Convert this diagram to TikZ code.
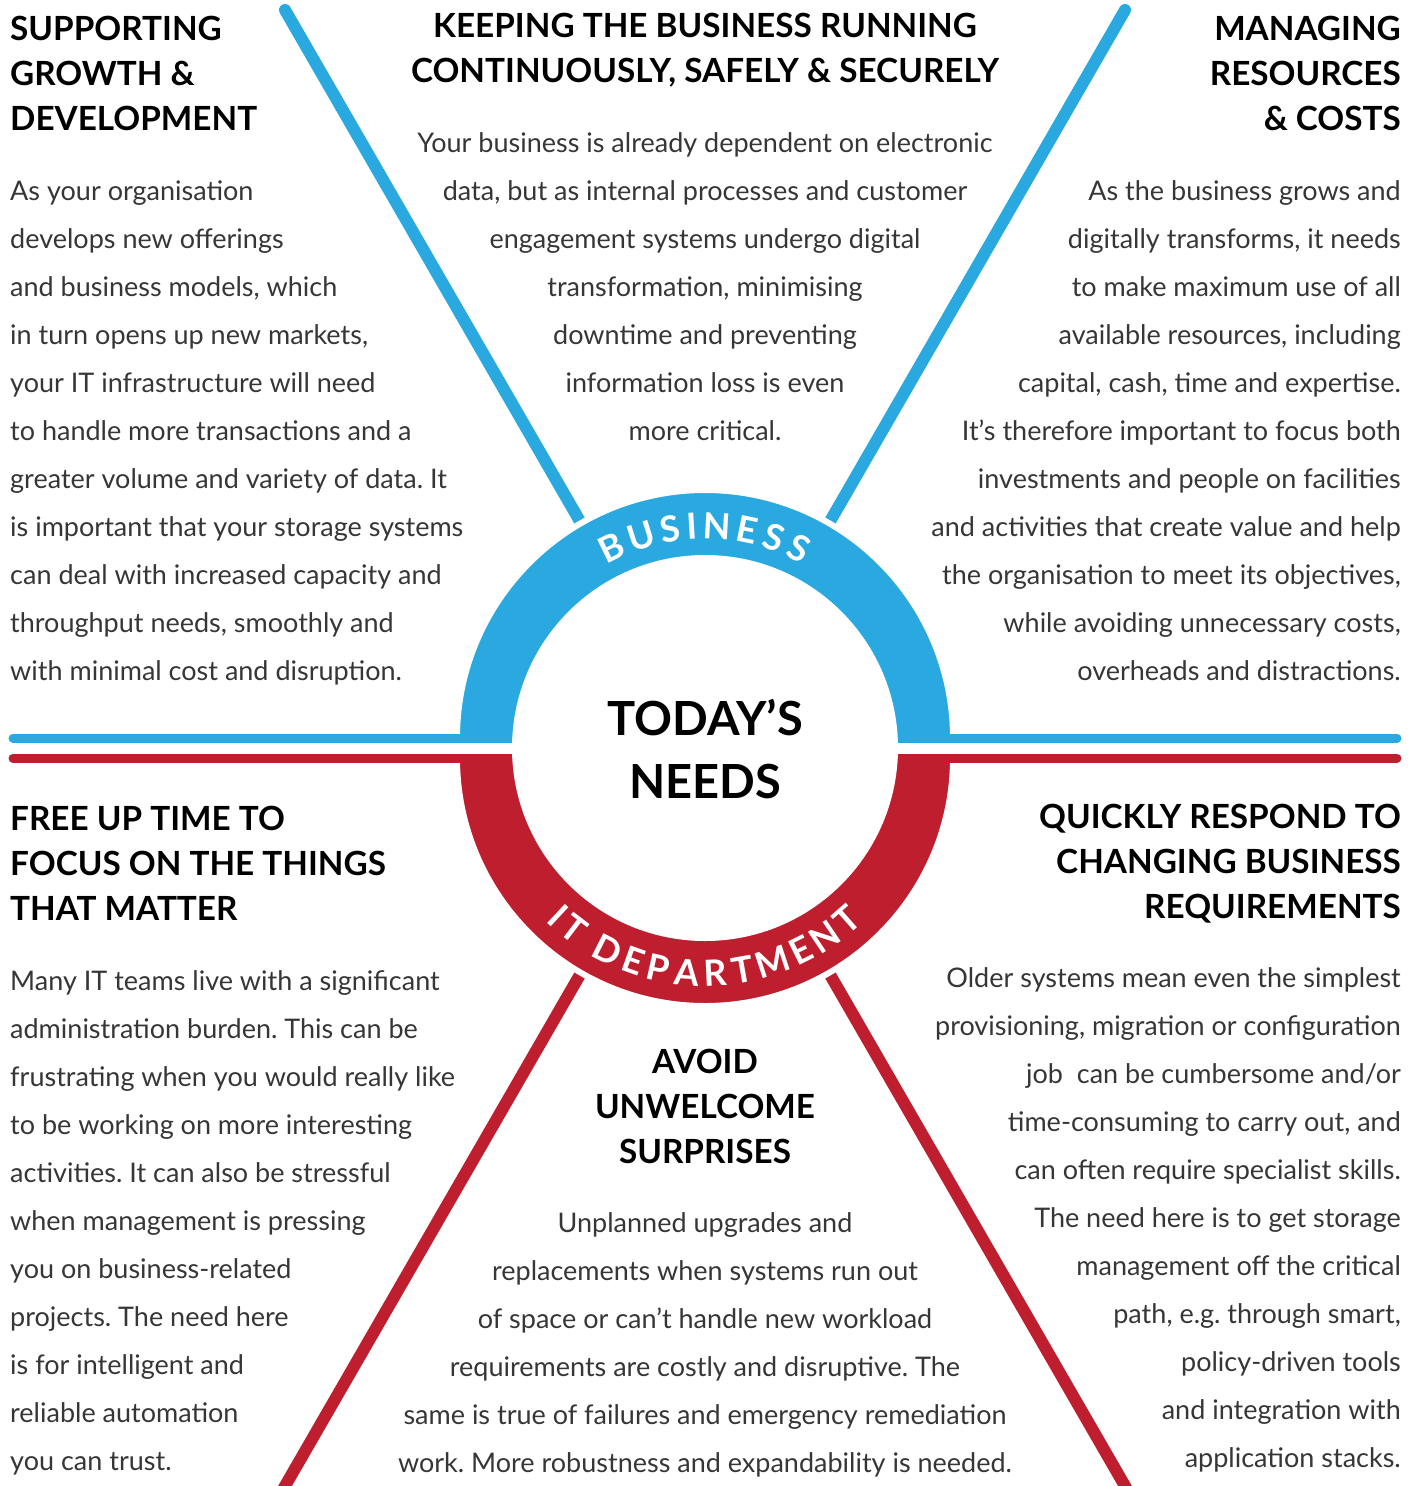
\documentclass[tikz,border=0pt]{standalone}
\usepackage{fontspec}
\setmainfont{Lato}
\usepackage{xcolor}
\usepackage{tikz}
\usetikzlibrary{calc}

\definecolor{bizblue}{HTML}{29A9E0}
\definecolor{itred}{HTML}{BE1E2D}
\definecolor{bodygray}{HTML}{363636}

\begin{document}
\frenchspacing
\begin{tikzpicture}[x=1pt,y=-1pt]
    \tikzstyle{spoke}=[line width=12pt]
    \tikzstyle{divider}=[line width=9pt,line cap=round]
    \tikzstyle{half ring}=[draw=white,line width=6pt]
    \tikzstyle{heading}=[inner sep=0pt,text=black,font=\fontsize{33.3}{40}\selectfont\bfseries]
    \tikzstyle{body}=[inner sep=0pt,text=bodygray,font=\fontsize{27}{30}\selectfont]
    \tikzstyle{hub text}=[inner sep=0pt,anchor=base,text=black,font=\fontsize{47}{56}\selectfont\bfseries]
    \tikzstyle{ring letter}=[inner sep=0pt,anchor=base,text=white,font=\fontsize{36}{40}\selectfont\bfseries]

    \useasboundingbox (0,0) rectangle (1419,1486);

	\coordinate (cb) at (705,738);
	\coordinate (cr) at (705,758);
	\coordinate (cw) at (705,748);

	\coordinate (tl) at (285,10);
	\coordinate (tr) at (1125,10);
	\coordinate (bl) at (285,1486);
	\coordinate (br) at (1125,1486);

    % Spokes
	\draw[style=spoke,bizblue,line cap=round] (tl) -- (cb);
	\draw[style=spoke,bizblue,line cap=round] (tr) -- (cb);
	\draw[style=spoke,itred] ($(cr)!1.03!(bl)$) -- (cr);
	\draw[style=spoke,itred] ($(cr)!1.03!(br)$) -- (cr);

    % Half rings and dividers
	\filldraw[style=half ring,fill=bizblue] ($(cb)+(-248,0)$) arc[start angle=180,end angle=360,radius=248] -- cycle;
	\filldraw[style=half ring,fill=itred] ($(cr)+(-248,0)$) arc[start angle=180,end angle=0,radius=248] -- cycle;
	\draw[style=divider,bizblue] (13,738) -- (1397,738);
	\draw[style=divider,itred] (13,758) -- (1397,758);
	\fill[white] (cw) circle[radius=193];

    % Ring labels
	\foreach \ch/\o in {B/-2.37,U/-1.60,S/-0.86,I/-0.32,N/0.29,E/1.04,S/1.72,S/2.40}
	    \node[style=ring letter,rotate={-11.0*(\o)}] at ($(cb)+({270+11.0*(\o)}:199)$) {\ch};
	\foreach \ch/\o in {I/-4.33,T/-3.78,D/-2.72,E/-1.97,P/-1.26,A/-0.49,R/0.29,T/1.02,M/1.85,E/2.67,N/3.42,T/4.18}
	    \node[style=ring letter,rotate={9.9*(\o)}] at ($(cr)+({90-9.9*(\o)}:228)$) {\ch};

	\node[style=hub text] (today) at (705,735) {TODAY’S};
	\node[style=hub text] (needs) at (705,798) {NEEDS};

    % Supporting growth
	\foreach \ln [count=\i from 0] in {SUPPORTING,{GROWTH \&},DEVELOPMENT}
	    \node[style=heading,anchor=base west] (growth-h\i) at (10,{40+45*\i}) {\ln};
	\foreach \ln [count=\i from 0] in {{As your organisation},{develops new offerings},{and business models, which},
	    {in turn opens up new markets,},{your IT infrastructure will need},{to handle more transactions and a},
	    {greater volume and variety of data. It},{is important that your storage systems},
	    {can deal with increased capacity and},{throughput needs, smoothly and},{with minimal cost and disruption.}}
	    \node[style=body,anchor=base west] (growth-\i) at (10,{200+48*\i}) {\ln};

    % Keeping the business running
	\foreach \ln [count=\i from 0] in {{KEEPING THE BUSINESS RUNNING},{CONTINUOUSLY, SAFELY \& SECURELY}}
	    \node[style=heading,anchor=base] (running-h\i) at (705,{37+45*\i}) {\ln};
	\foreach \ln [count=\i from 0] in {{Your business is already dependent on electronic},
	    {data, but as internal processes and customer},{engagement systems undergo digital},
	    {transformation, minimising},{downtime and preventing},{information loss is even},{more critical.}}
	    \node[style=body,anchor=base] (running-\i) at (705,{152+48*\i}) {\ln};

    % Managing resources
	\foreach \ln [count=\i from 0] in {MANAGING,RESOURCES,{\& COSTS}}
	    \node[style=heading,anchor=base east] (costs-h\i) at (1401,{40+45*\i}) {\ln};
	\foreach \ln [count=\i from 0] in {{As the business grows and},{digitally transforms, it needs},
	    {to make maximum use of all},{available resources, including},{capital, cash, time and expertise.},
	    {It’s therefore important to focus both},{investments and people on facilities},
	    {and activities that create value and help},{the organisation to meet its objectives,},
	    {while avoiding unnecessary costs,},{overheads and distractions.}}
	    \node[style=body,anchor=base east] (costs-\i) at (1401,{200+48*\i}) {\ln};

    % Free up time
	\foreach \ln [count=\i from 0] in {{FREE UP TIME TO},{FOCUS ON THE THINGS},{THAT MATTER}}
	    \node[style=heading,anchor=base west] (time-h\i) at (10,{830+45*\i}) {\ln};
	\foreach \ln [count=\i from 0] in {{Many IT teams live with a significant},{administration burden. This can be},
	    {frustrating when you would really like},{to be working on more interesting},
	    {activities. It can also be stressful},{when management is pressing},{you on business-related},
	    {projects. The need here},{is for intelligent and},{reliable automation},{you can trust.}}
	    \node[style=body,anchor=base west] (time-\i) at (10,{990+48*\i}) {\ln};

    % Avoid surprises
	\foreach \ln [count=\i from 0] in {AVOID,UNWELCOME,SURPRISES}
	    \node[style=heading,anchor=base] (surprise-h\i) at (705,{1073+45*\i}) {\ln};
	\foreach \ln [count=\i from 0] in {{Unplanned upgrades and},{replacements when systems run out},
	    {of space or can’t handle new workload},{requirements are costly and disruptive. The},
	    {same is true of failures and emergency remediation},{work. More robustness and expandability is needed.}}
	    \node[style=body,anchor=base] (surprise-\i) at (705,{1232+48*\i}) {\ln};

    % Changing requirements
	\foreach \ln [count=\i from 0] in {{QUICKLY RESPOND TO},{CHANGING BUSINESS},REQUIREMENTS}
	    \node[style=heading,anchor=base east] (change-h\i) at (1401,{828+45*\i}) {\ln};
	\foreach \ln [count=\i from 0] in {{Older systems mean even the simplest},{provisioning, migration or configuration},
	    {job\ \ can be cumbersome and/or},{time-consuming to carry out, and},{can often require specialist skills.},
	    {The need here is to get storage},{management off the critical},{path, e.g. through smart,},
	    {policy-driven tools},{and integration with},{application stacks.}}
	    \node[style=body,anchor=base east] (change-\i) at (1401,{987+48*\i}) {\ln};

\end{tikzpicture}
\end{document}
